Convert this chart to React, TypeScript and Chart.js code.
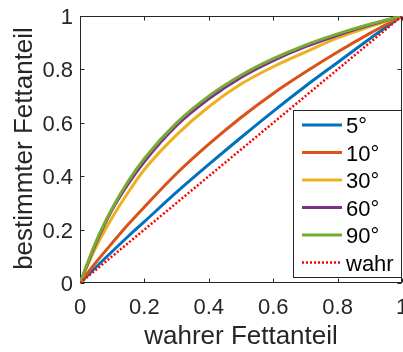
import React, { useEffect, useRef } from "react";
import { Chart, registerables } from "chart.js";

Chart.register(...registerables);

const xValues = [0, 0.05, 0.1, 0.15, 0.2, 0.3, 0.4, 0.5, 0.6, 0.7, 0.8, 0.9, 1];
const series5 = [0, 0.06, 0.118, 0.175, 0.23, 0.34, 0.444, 0.545, 0.643, 0.737, 0.826, 0.915, 1];
const series10 = [0, 0.078, 0.15, 0.22, 0.285, 0.41, 0.52, 0.62, 0.71, 0.79, 0.865, 0.935, 1];
const series30 = [0, 0.135, 0.245, 0.34, 0.425, 0.555, 0.66, 0.745, 0.81, 0.865, 0.918, 0.96, 1];
const series60 = [0, 0.15, 0.275, 0.372, 0.455, 0.59, 0.69, 0.77, 0.833, 0.885, 0.928, 0.966, 1];
const series90 = [0, 0.156, 0.28, 0.382, 0.467, 0.6, 0.7, 0.778, 0.84, 0.891, 0.933, 0.969, 1];
const seriesTrue = [0, 0.05, 0.1, 0.15, 0.2, 0.3, 0.4, 0.5, 0.6, 0.7, 0.8, 0.9, 1];

const seriesLabels = ["5°", "10°", "30°", "60°", "90°", "wahr"];
const seriesColors = ["#0072BD", "#D95319", "#EDB120", "#7E2F8E", "#77AC30", "#FF0000"];

const tickValues = [0, 0.2, 0.4, 0.6, 0.8, 1];
const tickLabels = ["0", "0.2", "0.4", "0.6", "0.8", "1"];

const xTitle = "wahrer Fettanteil";
const yTitle = "bestimmter Fettanteil";

const FONT = "'Liberation Sans', Arial, Helvetica, sans-serif";
const AXIS_COLOR = "#262626";

const toPoints = (ys: number[]) => ys.map((y, i) => ({ x: xValues[i], y }));

const matlabPlugin = {
  id: "matlabAxes",
  beforeDatasetsDraw(chart: any) {
    const { ctx, chartArea } = chart;
    const xs = chart.scales.x;
    const ys = chart.scales.y;
    const l = chartArea.left + 0.5;
    const r = chartArea.right - 0.5;
    const t = chartArea.top + 0.5;
    const b = chartArea.bottom - 0.5;
    ctx.save();
    ctx.strokeStyle = AXIS_COLOR;
    ctx.lineWidth = 1;
    ctx.strokeRect(l, t, r - l, b - t);
    const tl = 4;
    ctx.beginPath();
    tickValues.forEach((v) => {
      const px = Math.round(xs.getPixelForValue(v)) + 0.5;
      ctx.moveTo(px, b);
      ctx.lineTo(px, b - tl);
      ctx.moveTo(px, t);
      ctx.lineTo(px, t + tl);
      const py = Math.round(ys.getPixelForValue(v)) + 0.5;
      ctx.moveTo(l, py);
      ctx.lineTo(l + tl, py);
      ctx.moveTo(r, py);
      ctx.lineTo(r - tl, py);
    });
    ctx.stroke();
    ctx.restore();
  },
  afterDatasetsDraw(chart: any) {
    const { ctx, chartArea } = chart;
    const xs = chart.scales.x;
    const ys = chart.scales.y;
    ctx.save();
    // tick labels
    ctx.fillStyle = AXIS_COLOR;
    ctx.font = `22px ${FONT}`;
    ctx.textBaseline = "alphabetic";
    ctx.textAlign = "center";
    tickValues.forEach((v, i) => {
      ctx.fillText(tickLabels[i], xs.getPixelForValue(v), 314);
    });
    ctx.textAlign = "right";
    tickValues.forEach((v, i) => {
      ctx.fillText(tickLabels[i], 73, ys.getPixelForValue(v) + 8);
    });
    // axis titles
    ctx.font = `26px ${FONT}`;
    ctx.textAlign = "center";
    ctx.fillText(xTitle, (chartArea.left + chartArea.right) / 2, 344);
    ctx.save();
    ctx.translate(32, (chartArea.top + chartArea.bottom) / 2 - 1);
    ctx.rotate(-Math.PI / 2);
    ctx.fillText(yTitle, 0, 0);
    ctx.restore();

    // legend
    const lx = 293.5;
    const lr = chartArea.right - 0.5;
    const ly = 110.5;
    const lb = 277.5;
    ctx.fillStyle = "#ffffff";
    ctx.fillRect(lx, ly, lr - lx, lb - ly);
    ctx.strokeStyle = AXIS_COLOR;
    ctx.lineWidth = 1;
    ctx.strokeRect(lx, ly, lr - lx, lb - ly);
    ctx.font = `22px ${FONT}`;
    ctx.textAlign = "left";
    chart.data.datasets.forEach((ds: any, i: number) => {
      const cy = 125 + i * 27.5;
      ctx.strokeStyle = ds.borderColor;
      ctx.lineWidth = ds.borderWidth;
      ctx.setLineDash(ds.borderDash || []);
      ctx.beginPath();
      ctx.moveTo(302, cy);
      ctx.lineTo(342, cy);
      ctx.stroke();
      ctx.setLineDash([]);
      ctx.fillStyle = "#000000";
      ctx.fillText(ds.label, 346, cy + 8);
    });
    ctx.restore();
  },
};

export default function App() {
  const canvasRef = useRef<HTMLCanvasElement | null>(null);

  useEffect(() => {
    document.body.style.margin = "0";
    const canvas = canvasRef.current;
    if (!canvas) return;
    const allSeries = [series5, series10, series30, series60, series90, seriesTrue];
    const chart = new Chart(canvas, {
      type: "line",
      data: {
        datasets: allSeries.map((s, i) => ({
          label: seriesLabels[i],
          data: toPoints(s),
          borderColor: seriesColors[i],
          backgroundColor: seriesColors[i],
          borderWidth: i === 5 ? 2.5 : 3,
          borderDash: i === 5 ? [2, 2] : [],
          pointRadius: 0,
          fill: false,
          cubicInterpolationMode: i === 5 ? "default" : "monotone",
          tension: 0,
          order: allSeries.length - i,
        })),
      },
      options: {
        animation: false,
        responsive: false,
        devicePixelRatio: 1,
        layout: { padding: { left: 80, top: 16, right: 1, bottom: 69 } },
        scales: {
          x: { type: "linear", min: 0, max: 1, display: false },
          y: { type: "linear", min: 0, max: 1, display: false },
        },
        plugins: {
          legend: { display: false },
          tooltip: { enabled: false },
        },
        events: [],
      },
      plugins: [matlabPlugin],
    } as any);
    return () => chart.destroy();
  }, []);

  return (
    <div style={{ position: "absolute", left: 0, top: 0, width: 403, height: 352 }}>
      <canvas ref={canvasRef} width={403} height={352} />
    </div>
  );
}
